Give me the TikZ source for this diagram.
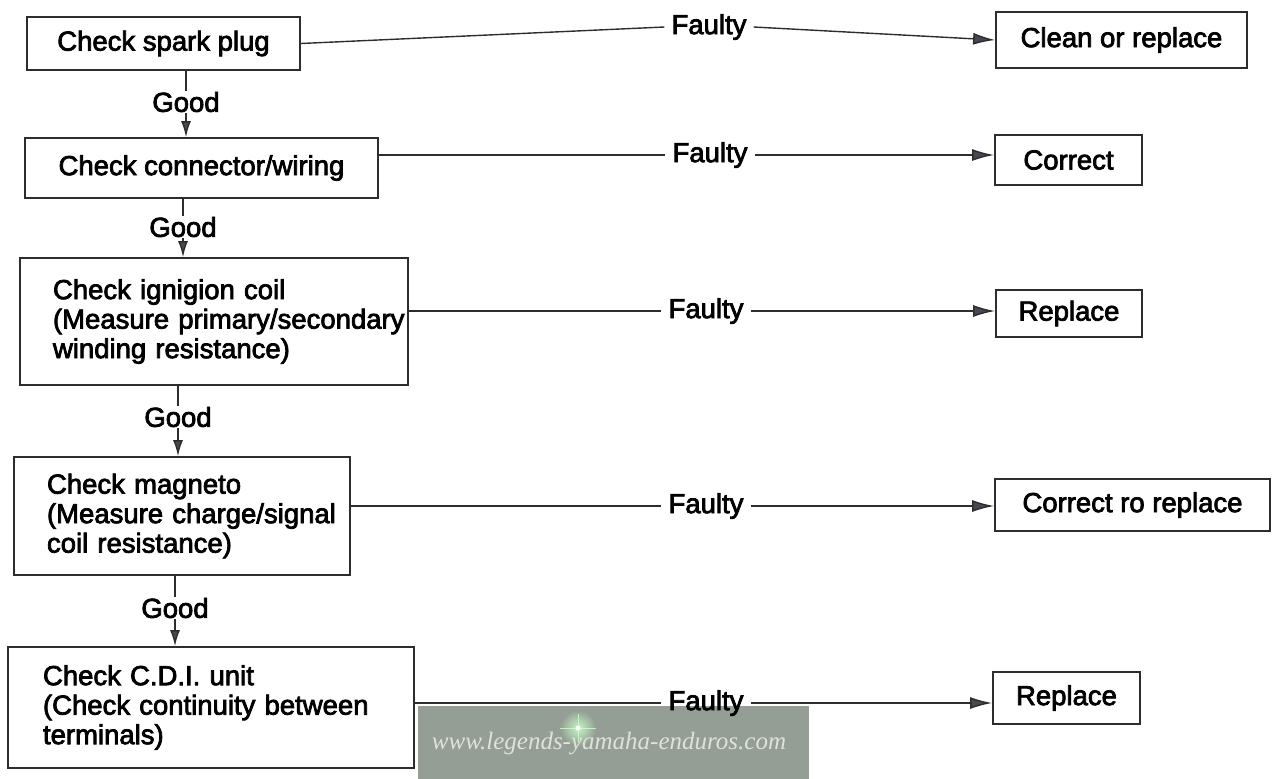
\documentclass[tikz,border=0pt]{standalone}
\usepackage{fontspec}
\setmainfont{Liberation Sans}
\newfontfamily\wmfont{Liberation Serif}
\usetikzlibrary{arrows.meta}
% fill-and-stroke text rendering for a heavier, printed look
\newcommand\heavytext{\special{pdf:literal direct 2 Tr 0.75 w}}
\definecolor{ink}{RGB}{45,45,45}
\definecolor{tipc}{RGB}{70,72,82}
\definecolor{wmbg}{RGB}{148,158,148}
\definecolor{wmtext}{RGB}{222,226,218}
\definecolor{wmglow}{RGB}{205,255,205}
\tikzset{
  stepbox/.style={draw=ink, line width=1.8pt, inner sep=0pt,
    font=\fontsize{27.5}{29.5}\selectfont\heavytext},
  multibox/.style={stepbox, align=left},
  lbl/.style={inner xsep=7pt, inner ysep=1pt,
    font=\fontsize{27.5}{29.5}\selectfont\heavytext},
  conn/.style={draw=ink, line width=1.4pt},
  arr/.style={conn, -{Latex[length=22pt,width=12pt,fill=tipc]}},
  downarr/.style={conn, -{Latex[length=16pt,width=10pt,fill=tipc]}},
}
\begin{document}
\begin{tikzpicture}[x=1pt,y=-1pt]
\useasboundingbox (0,0) rectangle (1275,779);

% web address banner at the bottom
\node[fill=wmbg, minimum width=391pt, minimum height=73pt, inner sep=0pt,
  anchor=north west] (wm) at (418,706) {};
\shade[inner color=wmglow, outer color=wmbg, opacity=0.9] (578,728) circle (18pt);
\draw[wmglow, line width=0.8pt, opacity=0.8] (560,728) -- (596,728) (578,714) -- (578,742);
\fill[white] (578,728) circle (2.5pt);
\node[text=wmtext, inner sep=0pt, font=\wmfont\itshape\fontsize{25}{25}\selectfont]
  (wmt) at (609,744) {www.legends-yamaha-enduros.com};

% check steps (left column)
\node[stepbox, minimum width=273pt, minimum height=53pt] (b1) at (163.5,43.5)
  {Check spark plug};
\node[stepbox, minimum width=353pt, minimum height=60pt] (b2) at (201.5,168)
  {Check connector/wiring};
\node[multibox, minimum width=388pt, minimum height=127pt, text width=322pt]
  (b3) at (214,321.5)
  {Check ignigion coil\\\mbox{(Measure primary/secondary}\\winding resistance)};
\node[multibox, minimum width=336pt, minimum height=118pt, text width=270pt]
  (b4) at (182,516)
  {Check magneto\\\mbox{(Measure charge/signal}\\coil resistance)};
\node[multibox, minimum width=406pt, minimum height=121pt, text width=336pt]
  (b5) at (211,707.5)
  {Check C.D.I. unit\\\mbox{(Check continuity between}\\terminals)};

% remedies (right column)
\node[stepbox, minimum width=251pt, minimum height=56pt] (r1) at (1121.5,40)
  {Clean or replace};
\node[stepbox, minimum width=147pt, minimum height=50pt] (r2) at (1068.5,160)
  {Correct};
\node[stepbox, minimum width=146pt, minimum height=47pt] (r3) at (1069,313.5)
  {Replace};
\node[stepbox, minimum width=275pt, minimum height=52pt] (r4) at (1132.5,505)
  {Correct ro replace};
\node[stepbox, minimum width=147pt, minimum height=52pt] (r5) at (1066.5,698)
  {Replace};

% "Faulty" labels
\node[lbl] (f1) at (709,27) {Faulty};
\node[lbl] (f2) at (710,155) {Faulty};
\node[lbl] (f3) at (706,311) {Faulty};
\node[lbl] (f4) at (706,506) {Faulty};
\node[lbl] (f5) at (706,703) {Faulty};

% "Good" labels
\node[lbl] (g1) at (186,102) {Good};
\node[lbl] (g2) at (183,227) {Good};
\node[lbl] (g3) at (178,417) {Good};
\node[lbl] (g4) at (175,608) {Good};

% faulty branches
\draw[conn] (b1.east) -- (f1.west);
\draw[arr] (f1.east) -- (r1.west);
\draw[conn] (b2.east |- f2) -- (f2.west);
\draw[arr] (f2.east) -- (r2.west |- f2);
\draw[conn] (b3.east |- f3) -- (f3.west);
\draw[arr] (f3.east) -- (r3.west |- f3);
\draw[conn] (b4.east |- f4) -- (f4.west);
\draw[arr] (f4.east) -- (r4.west |- f4);
\draw[conn] (b5.east |- f5) -- (f5.west);
\draw[arr] (f5.east) -- (r5.west |- f5);

% good branches
\draw[conn] (g1 |- b1.south) -- (g1.north);
\draw[downarr] (g1.south) -- (g1 |- b2.north);
\draw[conn] (g2 |- b2.south) -- (g2.north);
\draw[downarr] (g2.south) -- (g2 |- b3.north);
\draw[conn] (g3 |- b3.south) -- (g3.north);
\draw[downarr] (g3.south) -- (g3 |- b4.north);
\draw[conn] (g4 |- b4.south) -- (g4.north);
\draw[downarr] (g4.south) -- (g4 |- b5.north);
\end{tikzpicture}
\end{document}
